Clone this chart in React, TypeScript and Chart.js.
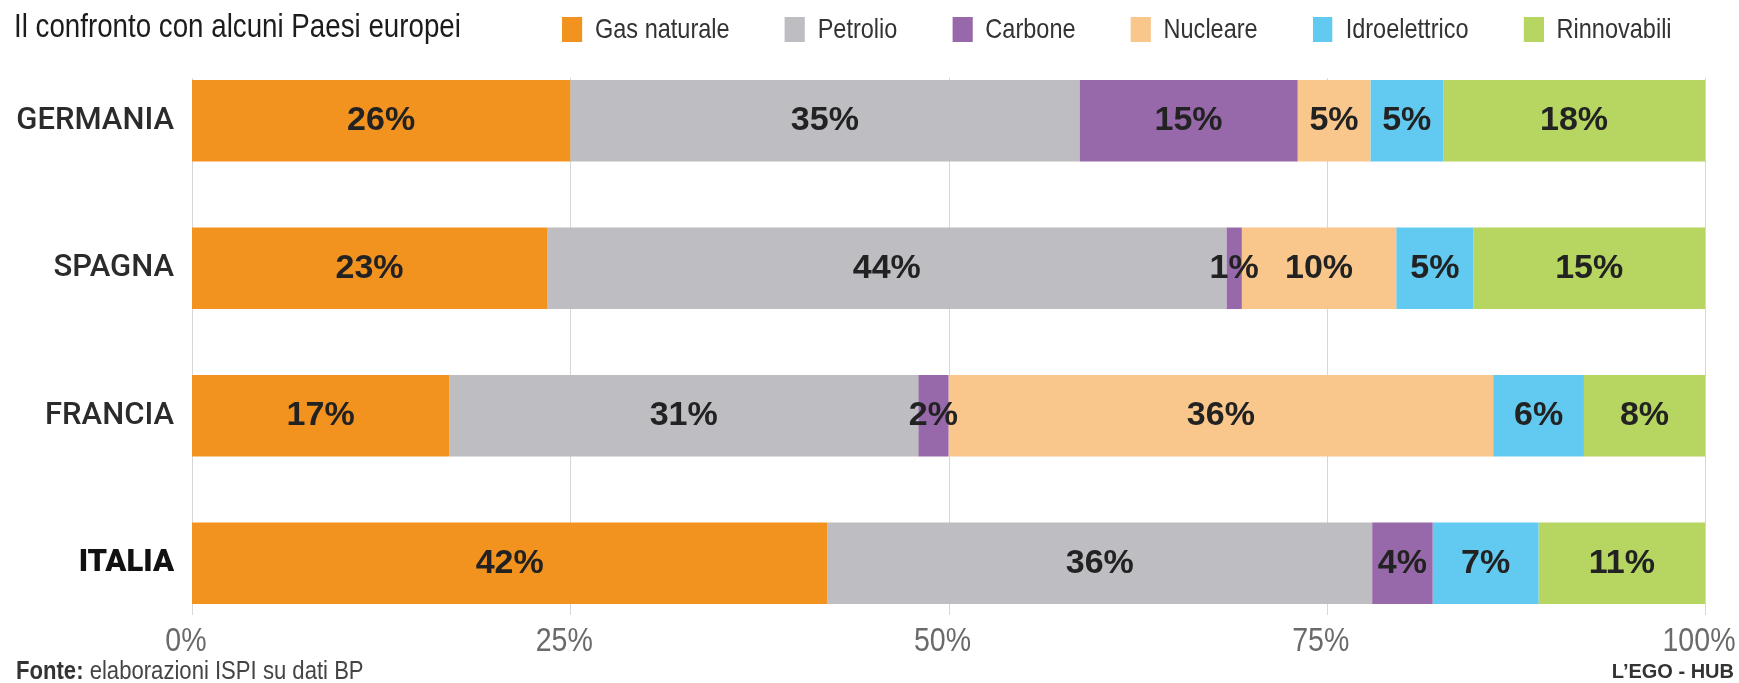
import React, { useEffect, useRef } from "react";
import { Chart, registerables } from "chart.js";

Chart.register(...registerables);

// Energy mix by country (share of primary energy, %)
const countries = ["GERMANIA", "SPAGNA", "FRANCIA", "ITALIA"];
const sources = ["Gas naturale", "Petrolio", "Carbone", "Nucleare", "Idroelettrico", "Rinnovabili"];
const sourceColors = ["#F3931F", "#BDBDC2", "#9869AA", "#F9C68B", "#62C9F0", "#B6D561"];

const gasNaturale = [26, 23, 17, 42];
const petrolio = [35, 44, 31, 36];
const carbone = [15, 1, 2, 4];
const nucleare = [5, 10, 36, 0];
const idroelettrico = [5, 5, 6, 7];
const rinnovabili = [18, 15, 8, 11];

const xTicks = [0, 25, 50, 75, 100];

const TITLE = "Il confronto con alcuni Paesi europei";
const SOURCE_NOTE = "elaborazioni ISPI su dati BP";
const CREDIT = "L\u2019EGO - HUB";

const SANS = '"Liberation Sans", Arial, sans-serif';
const ROBOTO = 'Roboto, "Liberation Sans", Arial, sans-serif';
const NARROW_SCALE = 0.84; // horizontal squeeze for the condensed captions

const series = [gasNaturale, petrolio, carbone, nucleare, idroelettrico, rinnovabili];
const totals = countries.map((_, i) => series.reduce((s, arr) => s + arr[i], 0));
const formatPct = (v: number) => `${v}%`;

// Vertical guides at the x ticks, spanning just the block of bars
const barGuides = {
  id: "barGuides",
  beforeDatasetsDraw(chart: any) {
    const meta = chart.getDatasetMeta(0);
    if (!meta.data.length) return;
    const first = meta.data[0];
    const last = meta.data[meta.data.length - 1];
    const top = first.y - first.height / 2 - 2;
    const bottom = last.y + last.height / 2 + 11;
    const xs = chart.scales.x;
    const ctx = chart.ctx;
    ctx.save();
    ctx.strokeStyle = "#d6d6d6";
    ctx.lineWidth = 1;
    xs.ticks.forEach((t: any) => {
      const px = Math.round(xs.getPixelForValue(t.value)) + 0.5;
      ctx.beginPath();
      ctx.moveTo(px, top);
      ctx.lineTo(px, bottom);
      ctx.stroke();
    });
    ctx.restore();
  },
};

// Condensed percentage labels under the guides
const axisLabels = {
  id: "axisLabels",
  afterDraw(chart: any) {
    const xs = chart.scales.x;
    const ctx = chart.ctx;
    const y = chart.chartArea.bottom;
    ctx.save();
    ctx.font = `34px ${SANS}`;
    ctx.fillStyle = "#6a6a6a";
    ctx.textAlign = "center";
    ctx.textBaseline = "middle";
    xs.ticks.forEach((t: any) => {
      const px = xs.getPixelForValue(t.value) - 6;
      ctx.save();
      ctx.translate(px, y + 5);
      ctx.scale(0.84, 1);
      ctx.fillText(formatPct(t.value), 0, 0);
      ctx.restore();
    });
    ctx.restore();
  },
};

// Writes each segment's percentage in the middle of the segment
const segmentLabels = {
  id: "segmentLabels",
  afterDatasetsDraw(chart: any) {
    const ctx = chart.ctx;
    ctx.save();
    ctx.font = `bold 34px ${SANS}`;
    ctx.fillStyle = "#222222";
    ctx.textAlign = "center";
    ctx.textBaseline = "middle";
    chart.data.datasets.forEach((ds: any, di: number) => {
      const meta = chart.getDatasetMeta(di);
      meta.data.forEach((el: any, i: number) => {
        const raw = ds.rawValues[i];
        if (!raw) return;
        const cx = (el.x + el.base) / 2;
        ctx.fillText(formatPct(raw), cx, el.y);
      });
    });
    ctx.restore();
  },
};

export default function App() {
  const canvasRef = useRef<HTMLCanvasElement | null>(null);

  useEffect(() => {
    if (!canvasRef.current) return;
    const datasets = series.map((values, si) => ({
      label: sources[si],
      backgroundColor: sourceColors[si],
      borderWidth: 0,
      rawValues: values,
      data: values.map((v, i) => (v / totals[i]) * 100),
      barPercentage: 0.552,
      categoryPercentage: 1,
    }));

    const chart = new Chart(canvasRef.current, {
      type: "bar",
      data: { labels: countries, datasets } as any,
      plugins: [barGuides, segmentLabels, axisLabels],
      options: {
        indexAxis: "y",
        animation: false,
        responsive: false,
        maintainAspectRatio: false,
        layout: { padding: { top: 47, right: 34, left: 0, bottom: 0 } },
        plugins: {
          legend: { display: false },
          tooltip: { enabled: false },
          title: { display: false },
        },
        scales: {
          x: {
            type: "linear",
            stacked: true,
            min: 0,
            max: 100,
            afterBuildTicks: (scale: any) => {
              scale.ticks = xTicks.map((v) => ({ value: v }));
            },
            afterFit: (scale: any) => {
              scale.height = 46;
            },
            grid: { display: false, drawTicks: false },
            border: { display: false },
            ticks: { display: false },
          },
          y: {
            type: "category",
            stacked: true,
            offset: true,
            afterFit: (scale: any) => {
              scale.width = 192;
            },
            grid: { display: false, drawTicks: false },
            border: { display: false },
            ticks: {
              padding: 18,
              color: (c: any) => (c.index === 3 ? "#111111" : "#2b2b2b"),
              font: (c: any) => ({
                family: ROBOTO,
                size: 31,
                weight: c.index === 3 ? "900" : "500",
              }),
            },
          },
        },
      } as any,
    });
    return () => chart.destroy();
  }, []);

  const squeeze = (k: number, origin = "left top") => ({
    transform: `scaleX(${k})`,
    transformOrigin: origin,
  });

  return (
    <div style={{ position: "absolute", left: 0, top: 0, width: 1739, height: 683, background: "#ffffff", overflow: "hidden" }}>
      <canvas ref={canvasRef} width={1739} height={683} style={{ position: "absolute", left: 0, top: 0, width: 1739, height: 683 }} />
      <div style={{ position: "absolute", left: 14, top: 9, fontFamily: SANS, fontSize: 33, lineHeight: 1, color: "#1c1c1c", whiteSpace: "nowrap", ...squeeze(NARROW_SCALE) }}>
        {TITLE}
      </div>
      <div
        style={{
          position: "absolute",
          left: 562,
          top: 15,
          display: "flex",
          gap: 55 / NARROW_SCALE,
          alignItems: "center",
          fontFamily: SANS,
          fontSize: 28,
          lineHeight: 1,
          color: "#333333",
          whiteSpace: "nowrap",
          ...squeeze(NARROW_SCALE),
        }}
      >
        {sources.map((s, i) => (
          <div key={s} style={{ display: "flex", alignItems: "center" }}>
            <span style={{ display: "inline-block", width: 20 / NARROW_SCALE, height: 25, background: sourceColors[i], marginRight: 13 / NARROW_SCALE }} />
            <span>{s}</span>
          </div>
        ))}
      </div>
      <div style={{ position: "absolute", left: 16, top: 657, fontFamily: SANS, fontSize: 26, lineHeight: 1, color: "#444444", whiteSpace: "nowrap", ...squeeze(0.85) }}>
        <b style={{ color: "#333333" }}>Fonte:</b> {SOURCE_NOTE}
      </div>
      <div style={{ position: "absolute", right: 5, top: 661, fontFamily: SANS, fontWeight: "bold", fontSize: 20, lineHeight: 1, color: "#333333", whiteSpace: "nowrap" }}>
        {CREDIT}
      </div>
    </div>
  );
}
